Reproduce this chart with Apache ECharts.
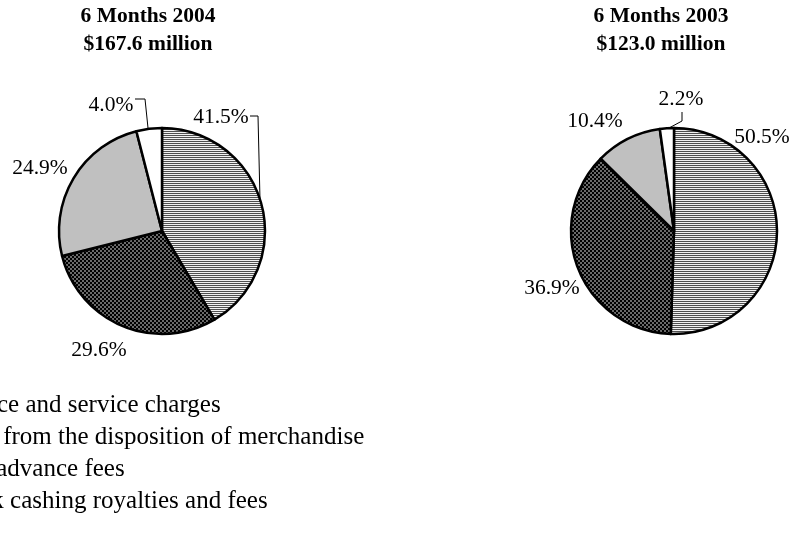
<!DOCTYPE html>
<html>
<head>
<meta charset="utf-8">
<script src="https://cdn.jsdelivr.net/npm/echarts@6/dist/echarts.min.js"></script>
<style>html,body{margin:0;padding:0;background:#fff;}#c{width:790px;height:533px;}</style>
</head>
<body>
<div id="c"></div>
<script>
const categories = ['Finance and service charges', 'Profit from the disposition of merchandise', 'Cash advance fees', 'Check cashing royalties and fees'];
const values2004 = [41.5, 29.6, 24.9, 4.0];
const values2003 = [50.5, 36.9, 10.4, 2.2];
const titles = ['6 Months 2004\n$167.6 million', '6 Months 2003\n$123.0 million'];

function makePattern(draw, w, h) {
  const c = document.createElement('canvas');
  c.width = w; c.height = h;
  const ctx = c.getContext('2d');
  draw(ctx);
  return { image: c, repeat: 'repeat' };
}
const stripe = makePattern(ctx => {
  ctx.fillStyle = '#f2f2f2'; ctx.fillRect(0, 0, 4, 4);
  ctx.fillStyle = '#505050'; ctx.fillRect(0, 1, 4, 1); ctx.fillRect(0, 3, 4, 1);
}, 4, 4);
const checker = makePattern(ctx => {
  ctx.fillStyle = '#6a6a6a'; ctx.fillRect(0, 0, 4, 4);
  ctx.fillStyle = '#000'; ctx.fillRect(0, 0, 2, 2); ctx.fillRect(2, 2, 2, 2);
}, 4, 4);
const fills = [stripe, checker, '#c0c0c0', '#ffffff'];

const FONT = "'Liberation Serif', 'Times New Roman', serif";

// label anchor positions (layout only)
const labelPos = [
  [ {x: 221, y: 117, line: [[260, 200], [258, 116], [250, 116]]},
    {x: 99, y: 350},
    {x: 40, y: 168},
    {x: 111, y: 105, line: [[148, 128], [145, 99], [135, 99]]} ],
  [ {x: 762, y: 137},
    {x: 552, y: 288},
    {x: 595, y: 121},
    {x: 681, y: 99, line: [[669, 128], [682, 121], [682, 112]]} ]
];

function buildData(vals, si) {
  return categories.map((name, i) => ({
    name: name,
    value: vals[i],
    itemStyle: { color: fills[i] },
    labelLine: { show: !!labelPos[si][i].line }
  }));
}

function pieSeries(vals, si, center) {
  return {
    type: 'pie',
    center: center,
    radius: 103,
    startAngle: 90,
    clockwise: true,
    silent: true,
    animation: false,
    avoidLabelOverlap: false,
    itemStyle: { borderColor: '#000', borderWidth: 2.5 },
    label: {
      show: true,
      position: 'outside',
      alignTo: 'none',
      overflow: 'none',
      formatter: p => p.value.toFixed(1) + '%',
      fontFamily: FONT,
      fontSize: 21.5,
      color: '#000'
    },
    labelLine: { show: true, lineStyle: { color: '#000', width: 1 }, length: 10, length2: 10 },
    labelLayout: function (params) {
      const lp = labelPos[si][params.dataIndex];
      const r = { x: lp.x, y: lp.y, align: 'center', verticalAlign: 'middle', hideOverlap: false, moveOverlap: false };
      if (lp.line) r.labelLinePoints = lp.line;
      return r;
    },
    data: buildData(vals, si)
  };
}

const chart = echarts.init(document.getElementById('c'), null, { renderer: 'canvas' });
chart.setOption({
  backgroundColor: '#fff',
  animation: false,
  title: [
    { text: titles[0], left: 148, top: 2, padding: 0, textAlign: 'center',
      textStyle: { fontFamily: FONT, fontWeight: 'bold', fontSize: 21.5, lineHeight: 28, color: '#000' } },
    { text: titles[1], left: 661, top: 2, padding: 0, textAlign: 'center',
      textStyle: { fontFamily: FONT, fontWeight: 'bold', fontSize: 21.5, lineHeight: 28, color: '#000' } }
  ],
  legend: {
    orient: 'vertical',
    left: -96,
    top: 384,
    itemWidth: 25,
    itemHeight: 14,
    itemGap: 0,
    icon: 'rect',
    selectedMode: false,
    data: categories,
    textStyle: { fontFamily: FONT, fontSize: 25, lineHeight: 32, color: '#000' }
  },
  series: [
    pieSeries(values2004, 0, [162, 231]),
    pieSeries(values2003, 1, [674, 231])
  ]
});
</script>
</body>
</html>
